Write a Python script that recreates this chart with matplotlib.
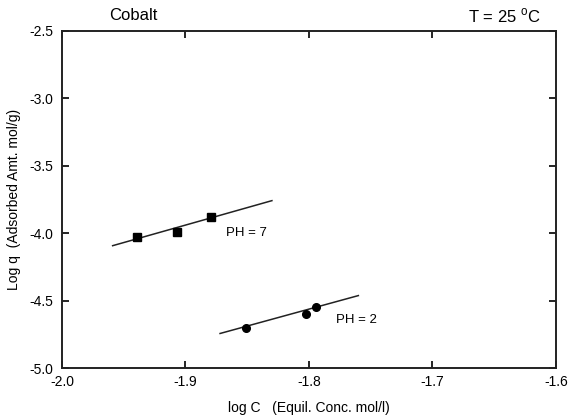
import matplotlib
matplotlib.use('Agg')
import matplotlib.pyplot as plt

plt.rcParams['font.family'] = ['Liberation Sans', 'DejaVu Sans']

# PH = 7 data + fitted line
ph7_x = [-1.939, -1.907, -1.879]
ph7_y = [-4.026, -3.989, -3.878]
ph7_fit_x = [-1.959, -1.830]
ph7_fit_y = [-4.093, -3.759]

# PH = 2 data + fitted line
ph2_x = [-1.851, -1.802, -1.794]
ph2_y = [-4.700, -4.596, -4.544]
ph2_fit_x = [-1.872, -1.760]
ph2_fit_y = [-4.744, -4.463]

xticks = [-2.0, -1.9, -1.8, -1.7, -1.6]
yticks = [-2.5, -3.0, -3.5, -4.0, -4.5, -5.0]

fig = plt.figure(figsize=(5.69, 4.17), dpi=100)
ax = fig.add_axes([0.109, 0.1175, 0.868, 0.8085])

ax.plot(ph7_fit_x, ph7_fit_y, color='#222222', lw=1.1)
ax.plot(ph7_x, ph7_y, 's', color='black', ms=5.5, ls='none')
ax.plot(ph2_fit_x, ph2_fit_y, color='#222222', lw=1.1)
ax.plot(ph2_x, ph2_y, 'o', color='black', ms=5.5, ls='none')

ax.text(-1.867, -3.996, 'PH = 7', fontsize=9.5, va='center', ha='left')
ax.text(-1.778, -4.641, 'PH = 2', fontsize=9.5, va='center', ha='left')

ax.set_xlim(-2.0, -1.6)
ax.set_ylim(-5.0, -2.5)
ax.set_xticks(xticks)
ax.set_yticks(yticks)
ax.set_xticklabels(['%.1f' % v for v in xticks])
ax.set_yticklabels(['%.1f' % v for v in yticks])
ax.tick_params(direction='in', top=True, right=True, length=5, width=1.2,
               labelsize=10)
ax.tick_params(axis='x', pad=5)
ax.tick_params(axis='y', pad=6.5)
for s in ax.spines.values():
    s.set_linewidth(1.4)
    s.set_color('#222222')

ax.set_xlabel('log C   (Equil. Conc. mol/l)', fontsize=10, labelpad=9)
ax.set_ylabel('Log q  (Adsorbed Amt. mol/g)', fontsize=10, labelpad=6)

fig.text(109/569, 1 - 16/417, 'Cobalt', fontsize=12, ha='left', va='center')
fig.text(541/569, 1 - 16/417, 'T = 25 $^\\mathregular{o}$C', fontsize=12, ha='right', va='center')

fig.savefig('out.png', dpi=100)
